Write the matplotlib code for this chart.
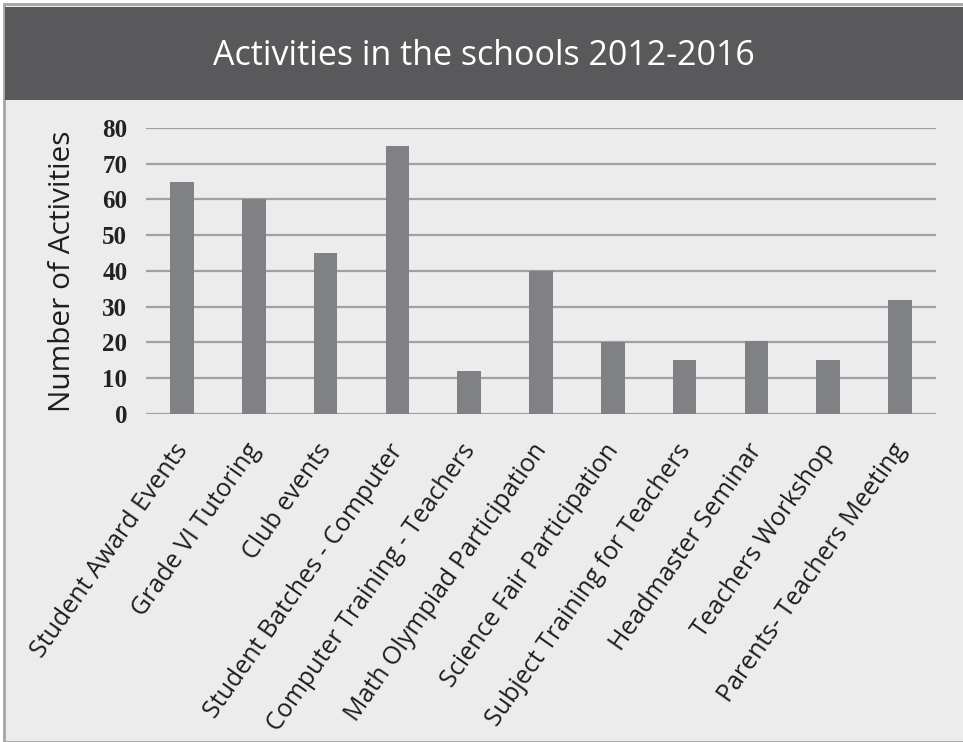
import matplotlib.pyplot as plt
from matplotlib.patches import Rectangle
from matplotlib.transforms import ScaledTranslation

# Data
activities = [
    "Student Award Events", "Grade VI Tutoring", "Club events",
    "Student Batches - Computer", "Computer Training - Teachers",
    "Math Olympiad Participation", "Science Fair Participation",
    "Subject Training for Teachers", "Headmaster Seminar",
    "Teachers Workshop", "Parents- Teachers Meeting",
]
counts = [65, 60, 45, 75, 12, 40, 20, 15, 20.5, 15, 32]
y_ticks = [0, 10, 20, 30, 40, 50, 60, 70, 80]

bg = "#ebeceb"
bar_color = "#808184"
grid_color = "#a0a0a0"

fig = plt.figure(figsize=(9.63, 7.42), dpi=100)
fig.patch.set_facecolor("white")

# outer panel with thin grey frame
fig.add_artist(Rectangle((4 / 963, 0), 1, 1 - 4 / 742, transform=fig.transFigure,
                         facecolor=bg, edgecolor="#a6a6a6", linewidth=2, zorder=0))
# dark title band
fig.add_artist(Rectangle((5 / 963, 1 - 100 / 742), 1, 93 / 742, transform=fig.transFigure,
                         facecolor="#59595b", edgecolor="none", zorder=1))
fig.text(0.502, 1 - 56 / 742, "Activities in the schools 2012-2016", color="white",
         fontsize=24.5, family="Open Sans", ha="center", va="center", zorder=2)

ax = fig.add_axes([146 / 963, 1 - 414 / 742, 790 / 963, 286 / 742])
ax.set_facecolor(bg)
x = list(range(len(activities)))
ax.bar(x, counts, width=0.33, color=bar_color, zorder=3)

ax.set_xlim(-0.5, len(activities) - 0.5)
ax.set_ylim(0, 80)
ax.set_yticks(y_ticks)
ax.set_yticklabels([str(v) for v in y_ticks], fontsize=18, fontweight="bold",
                   family="Liberation Serif", color="#222222")
ax.yaxis.grid(True, color=grid_color, linewidth=1.6, zorder=1)
ax.set_axisbelow(True)
ax.tick_params(axis="y", length=0, pad=13.5)
ax.tick_params(axis="x", length=0, pad=18)

ax.set_xticks(x)
ax.set_xticklabels(activities, rotation=55, ha="right", rotation_mode="anchor",
                   fontsize=18, family="Open Sans", color="#1e1e1e")
# nudge the slanted labels so their ends sit over the bars
shift = ScaledTranslation(-9 / 100, 0, fig.dpi_scale_trans)
for lbl in ax.get_xticklabels():
    lbl.set_transform(lbl.get_transform() + shift)

ax.set_ylabel("Number of Activities", fontsize=21.5, family="Open Sans",
              color="#1e1e1e", labelpad=18)

for side in ["top", "right", "left", "bottom"]:
    ax.spines[side].set_visible(False)

fig.savefig("out.png", dpi=100, facecolor=fig.get_facecolor())
